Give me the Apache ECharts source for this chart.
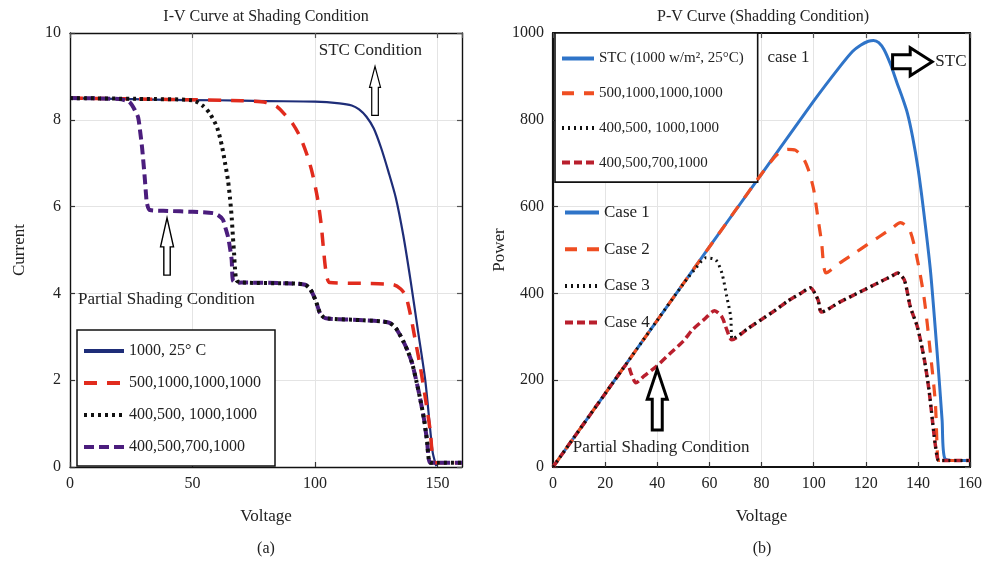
<!DOCTYPE html>
<html>
<head>
<meta charset="utf-8">
<script src="https://cdn.jsdelivr.net/npm/echarts@6/dist/echarts.min.js"></script>
<style>
  html, body { margin: 0; padding: 0; background: #fff; }
  #chart { width: 985px; height: 564px; }
</style>
</head>
<body>
<div id="chart"></div>
<script>
const SERIF = '"Liberation Serif", "DejaVu Serif", serif';

// ---- I-V curves, [voltage, current] ----
const ivNames = ['1000, 25° C', '500,1000,1000,1000', '400,500, 1000,1000', '400,500,700,1000'];
const ivStc = [[0,8.5],[20,8.48],[40,8.46],[60,8.45],[80,8.43],[100,8.42],[110,8.38],[115,8.33],[118,8.24],[121,8.07],[124,7.8],[127,7.35],[130,6.8],[133,6.2],[136,5.35],[139,4.3],[142,3.15],[145,2.0],[148,0.35],[149.5,0.02]];
const ivCase2 = [[0,8.5],[40,8.47],[70,8.44],[80,8.4],[84.5,8.3],[88,8.1],[91,7.9],[94,7.6],[97,7.15],[99,6.75],[101,6.2],[102.5,5.6],[103.5,5.0],[104.5,4.5],[106,4.25],[120,4.23],[132,4.2],[135,4.1],[137,3.95],[139,3.5],[141,2.9],[143,2.3],[145,1.6],[147,0.85],[148.5,0.1],[150,0.1],[160,0.1]];
const ivCase3 = [[0,8.5],[30,8.48],[50,8.45],[54.3,8.32],[57,8.15],[60,7.83],[62,7.4],[63.3,7.0],[64.5,6.6],[65.3,6.2],[66,5.75],[66.5,5.3],[67,4.9],[67.3,4.6],[68,4.3],[70,4.25],[90,4.23],[96,4.2],[98,4.1],[99,4.0],[100.5,3.8],[102,3.55],[103.5,3.45],[105,3.42],[120,3.38],[130,3.33],[133,3.2],[136,2.9],[138,2.65],[139.6,2.4],[141.5,1.95],[143,1.55],[144.5,1.1],[145.7,0.62],[147,0.1],[150,0.1],[160,0.1]];
const ivCase4 = [[0,8.5],[20,8.48],[24,8.42],[25.3,8.34],[26.5,8.22],[27.8,8.06],[28.7,7.7],[29.4,7.37],[30,7.0],[30.6,6.6],[31,6.3],[31.4,6.08],[32.6,5.92],[40,5.9],[50,5.88],[58.4,5.85],[60.5,5.8],[62.4,5.7],[63.5,5.5],[64.5,5.3],[65.3,5.05],[66,4.77],[66.5,4.3],[68,4.24],[70,4.25],[90,4.23],[96,4.2],[98,4.1],[99,4.0],[100.5,3.8],[102,3.55],[103.5,3.45],[105,3.42],[120,3.38],[130,3.33],[133,3.2],[136,2.9],[138,2.65],[139.6,2.4],[141.5,1.95],[143,1.55],[144.5,1.1],[145.7,0.62],[147,0.1],[150,0.1],[160,0.1]];

// ---- P-V curves, [voltage, power] ----
const pvNames = ['Case 1', 'Case 2', 'Case 3', 'Case 4'];
const pvLegendText = ['STC (1000 w/m², 25°C)', '500,1000,1000,1000', '400,500, 1000,1000', '400,500,700,1000'];
const pvCase1 = [[0,0],[20,169],[40,338],[60,507],[80,675],[100,843],[110,922],[115,958],[118,972],[121,981],[123,983],[125,978],[127,962],[129.5,928],[132,885],[134,852],[136,815],[138,760],[140,690],[142,600],[144.8,454],[147.4,263],[149.3,108],[150.3,20],[155,15],[160,15]];
const pvCase2 = [[0,0],[20,169],[40,338],[60,507],[80,675],[86,720],[90,732],[93,730],[96,712],[98,685],[100,640],[101.5,580],[103,520],[104.8,447],[110,470],[115.8,493],[120,510],[125,530],[130,550],[133.3,563],[136.8,547],[139.8,478],[142.5,385],[144.8,263],[146.7,148],[147.5,30],[148,15],[160,15]];
const pvCase3 = [[0,0],[20,169],[40,338],[50,422],[55,460],[58.7,482],[62.5,477],[64.8,447],[66.7,392],[68.2,346],[68.8,295],[75,320],[80,340],[85,360],[90,382],[95,400],[98.7,413],[101.7,385],[103,357],[110,380],[115,395],[120,410],[125,425],[130,440],[132.2,447],[134.8,431],[137.1,369],[139.8,323],[142.5,247],[144.4,171],[146.3,69],[147.4,23],[148,15],[160,15]];
const pvCase4 = [[0,0],[20,169],[27,228],[28.5,238],[30,215],[31.8,194],[35,210],[39.5,231],[45,262],[50,290],[53.5,316],[58,340],[62,360],[64.8,346],[66.7,316],[68.6,293],[75,320],[80,340],[85,360],[90,382],[95,400],[98.7,413],[101.7,385],[103,357],[110,380],[115,395],[120,410],[125,425],[130,440],[132.2,447],[134.8,431],[137.1,369],[139.8,323],[142.5,247],[144.4,171],[146.3,69],[147.4,23],[148,15],[160,15]];

// Axis ranges and tick steps
const ivVoltAxis = { min: 0, max: 160, interval: 50 };
const ivCurrAxis = { min: 0, max: 10, interval: 2 };
const pvVoltAxis = { min: 0, max: 160, interval: 20 };
const pvPowAxis  = { min: 0, max: 1000, interval: 200 };

const chart = echarts.init(document.getElementById('chart'), null, { renderer: 'canvas' });

const labelStyle = { color: '#222', fontFamily: SERIF, fontSize: 16 };
const nameStyle = { color: '#222', fontFamily: SERIF, fontSize: 17 };
const plain = v => String(v);

function mainAxis(range, grid, pos, lineW, extra) {
  return Object.assign({
    type: 'value', gridIndex: grid, position: pos,
    min: range.min, max: range.max, interval: range.interval,
    axisLine: { show: true, onZero: false, lineStyle: { color: '#111', width: lineW } },
    axisTick: { show: true, inside: true, length: 5, lineStyle: { color: '#333', width: 1.2 } },
    axisLabel: Object.assign({ margin: 9, showMaxLabel: true, formatter: plain }, labelStyle),
    splitLine: { show: true, lineStyle: { color: '#e4e4e4', width: 1 } },
    nameTextStyle: nameStyle
  }, extra || {});
}
function frameAxis(range, grid, pos, lineW) {
  return {
    type: 'value', gridIndex: grid, position: pos,
    min: range.min, max: range.max, interval: range.interval,
    axisLine: { show: true, onZero: false, lineStyle: { color: '#111', width: lineW } },
    axisTick: { show: true, inside: true, length: 5, lineStyle: { color: '#555', width: 1.2 } },
    axisLabel: { show: false },
    splitLine: { show: false }
  };
}

function lineSeries(name, data, xi, yi, color, width, dash, z) {
  return {
    type: 'line', name: name, data: data, xAxisIndex: xi, yAxisIndex: yi,
    symbol: 'none', smooth: 0.25, z: z, animation: false,
    lineStyle: { color: color, width: width, type: dash, cap: 'butt', join: 'round' },
    itemStyle: { color: color }
  };
}

// legend entries show only a thick line sample
const lineOnly = { opacity: 0, borderWidth: 0 };
const thickSample = { width: 4 };

const option = {
  backgroundColor: '#fff',
  animation: false,
  grid: [
    { left: 70, top: 33, width: 392, height: 434 },
    { left: 553, top: 33, width: 420, height: 434 }
  ],
  xAxis: [
    mainAxis(ivVoltAxis, 0, 'bottom', 1.4, { name: 'Voltage', nameLocation: 'middle', nameGap: 41,
      axisLabel: Object.assign({ margin: 9, showMaxLabel: false, formatter: plain }, labelStyle) }),
    frameAxis(ivVoltAxis, 0, 'top', 1.4),
    mainAxis(pvVoltAxis, 1, 'bottom', 2.2, { name: 'Voltage', nameLocation: 'middle', nameGap: 41 }),
    frameAxis(pvVoltAxis, 1, 'top', 2.2)
  ],
  yAxis: [
    mainAxis(ivCurrAxis, 0, 'left', 1.4, { name: 'Current', nameLocation: 'middle', nameGap: 42 }),
    frameAxis(ivCurrAxis, 0, 'right', 1.4),
    mainAxis(pvPowAxis, 1, 'left', 2.2, { name: 'Power', nameLocation: 'middle', nameGap: 40 }),
    frameAxis(pvPowAxis, 1, 'right', 2.2)
  ],
  legend: [
    {
      data: ivNames, orient: 'vertical', left: 77, top: 330,
      itemWidth: 40, itemHeight: 14, itemGap: 16, padding: [13, 14, 11, 5],
      borderColor: '#111', borderWidth: 1.5, backgroundColor: '#fff',
      itemStyle: lineOnly, lineStyle: thickSample,
      textStyle: { color: '#222', fontFamily: SERIF, fontSize: 16 },
      selectedMode: false
    },
    {
      data: pvNames, orient: 'vertical', left: 555, top: 33,
      itemWidth: 32, itemHeight: 14, itemGap: 19.7, padding: [18, 14, 12, 5],
      borderColor: '#111', borderWidth: 1.6, backgroundColor: '#fff',
      itemStyle: lineOnly, lineStyle: thickSample,
      textStyle: { color: '#222', fontFamily: SERIF, fontSize: 15 },
      formatter: function (n) { return pvLegendText[pvNames.indexOf(n)]; },
      selectedMode: false
    },
    {
      data: pvNames, orient: 'vertical', left: 563, top: 204,
      itemWidth: 34, itemHeight: 14, itemGap: 19.7, padding: 0,
      itemStyle: lineOnly, lineStyle: thickSample,
      textStyle: { color: '#222', fontFamily: SERIF, fontSize: 17 },
      selectedMode: false
    }
  ],
  series: [
    lineSeries(ivNames[0], ivStc, 0, 0, '#1e2d78', 2.2, 'solid', 3),
    lineSeries(ivNames[1], ivCase2, 0, 0, '#e12b1d', 3.5, [13, 10], 4),
    lineSeries(ivNames[3], ivCase4, 0, 0, '#4b1d7d', 4, [10, 5], 5),
    lineSeries(ivNames[2], ivCase3, 0, 0, '#111111', 4, [3, 4], 6),
    lineSeries(pvNames[0], pvCase1, 2, 2, '#2f74c8', 3, 'solid', 3),
    lineSeries(pvNames[1], pvCase2, 2, 2, '#ef4e22', 3.2, [12, 10], 4),
    lineSeries(pvNames[3], pvCase4, 2, 2, '#b91f2d', 3.5, [8, 4], 5),
    lineSeries(pvNames[2], pvCase3, 2, 2, '#111111', 3, [2, 4], 6)
  ]
};
chart.setOption(option);

// ---- annotations, placed in data coordinates ----
const ivNotes = [
  { text: 'STC Condition', at: [101.5, 9.6] },
  { text: 'Partial Shading Condition', at: [3.3, 3.87] }
];
const pvNotes = [
  { text: 'case 1', at: [82.3, 943] },
  { text: 'STC', at: [146.7, 934] },
  { text: 'Partial Shading Condition', at: [7.6, 44] }
];
// hollow up arrows: x, tip value, base value
const ivUpArrows = [
  { x: 124.5, tip: 9.23, base: 8.1, hw: 5.5, sw: 3.3, head: 21, lw: 1.2 },
  { x: 39.6, tip: 5.74, base: 4.42, hw: 6.5, sw: 3.2, head: 29, lw: 1.4 }
];
const pvUpArrows = [
  { x: 40, tip: 225, base: 85, hw: 10, sw: 5, head: 30, lw: 3 }
];
const pvRightArrows = [
  { from: 130.3, to: 145.5, y: 934, hw: 14, sw: 7, head: 22, lw: 3 }
];

function px(grid, pt) { return chart.convertToPixel({ gridIndex: grid }, pt); }

const graphics = [];
function addText(grid, n) {
  const p = px(grid, n.at);
  graphics.push({ type: 'text', x: p[0], y: p[1], z: 50,
    style: { text: n.text, fill: '#222', font: '17px ' + SERIF, textAlign: 'left', textVerticalAlign: 'middle' } });
}
ivNotes.forEach(n => addText(0, n));
pvNotes.forEach(n => addText(1, n));

function addUp(grid, a) {
  const t = px(grid, [a.x, a.tip]);
  const b = px(grid, [a.x, a.base]);
  const x = t[0], yt = t[1], yb = b[1], yh = yt + a.head;
  graphics.push({ type: 'polygon', z: 50,
    shape: { points: [[x, yt], [x + a.hw, yh], [x + a.sw, yh], [x + a.sw, yb], [x - a.sw, yb], [x - a.sw, yh], [x - a.hw, yh]] },
    style: { fill: '#fff', stroke: '#000', lineWidth: a.lw, lineJoin: 'miter' } });
}
ivUpArrows.forEach(a => addUp(0, a));
pvUpArrows.forEach(a => addUp(1, a));

pvRightArrows.forEach(a => {
  const s = px(1, [a.from, a.y]);
  const e = px(1, [a.to, a.y]);
  const y = s[1], x0 = s[0], xt = e[0], xh = xt - a.head;
  graphics.push({ type: 'polygon', z: 50,
    shape: { points: [[xt, y], [xh, y - a.hw], [xh, y - a.sw], [x0, y - a.sw], [x0, y + a.sw], [xh, y + a.sw], [xh, y + a.hw]] },
    style: { fill: '#fff', stroke: '#000', lineWidth: a.lw, lineJoin: 'miter' } });
});

// titles and panel captions
const titles = [
  { text: 'I-V Curve at Shading Condition', x: 266, y: 17 },
  { text: 'P-V Curve (Shadding Condition)', x: 763, y: 17 },
  { text: '(a)', x: 266, y: 549 },
  { text: '(b)', x: 762, y: 549 }
];
titles.forEach(t => graphics.push({ type: 'text', x: t.x, y: t.y, z: 50,
  style: { text: t.text, fill: '#222', font: '16px ' + SERIF, textAlign: 'center', textVerticalAlign: 'middle' } }));

chart.setOption({ graphic: graphics });
</script>
</body>
</html>
